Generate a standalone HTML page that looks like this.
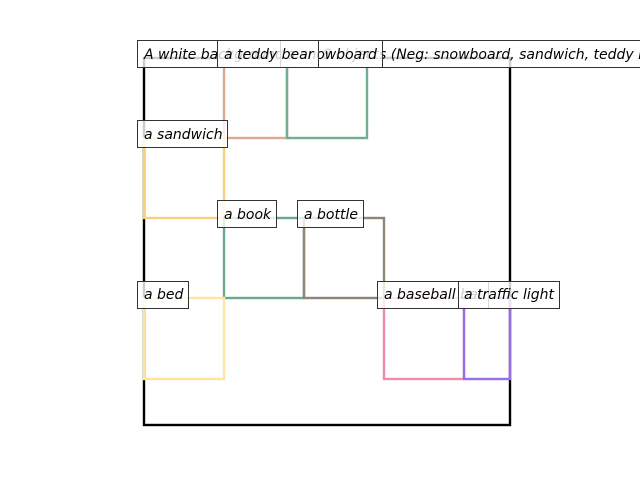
<!DOCTYPE html>
<html><head><meta charset="utf-8"><style>
html,body{margin:0;padding:0;background:#fff;width:640px;height:480px;overflow:hidden}
svg text{font-family:"DejaVu Sans","Liberation Sans",sans-serif;font-style:italic;font-size:14px;fill:#000;stroke:none}
</style></head><body>
<svg width="640" height="480" viewBox="0 0 640 480" xmlns="http://www.w3.org/2000/svg">
<rect x="0" y="0" width="640" height="480" fill="#fff"/>
<g fill="none" stroke-width="2.4">
<rect x="144" y="58" width="366" height="367" stroke="#000"/>
<rect x="224" y="58" width="63" height="80" stroke="#dfa98f"/>
<rect x="287" y="58" width="80" height="80" stroke="#72ae8e"/>
<rect x="144" y="138" width="80" height="80" stroke="#f8cf80"/>
<rect x="224" y="218" width="80" height="80" stroke="#6aa88a"/>
<rect x="304" y="218" width="80" height="80" stroke="#8f8676"/>
<rect x="144" y="298" width="80" height="81" stroke="#ffe3a0"/>
<rect x="384" y="298" width="80" height="81" stroke="#f08ca8"/>
<rect x="464" y="298" width="46" height="81" stroke="#9a6ee6"/>
</g>
<g stroke="#333" stroke-width="1" fill="rgba(255,255,255,0.8)">
<rect x="137.5" y="40.5" width="520" height="27"/>
<text x="144" y="59">A white background with 8 objects (Neg: snowboard, sandwich, teddy bear)</text>
<rect x="280.5" y="40.5" width="102" height="27"/>
<text x="287" y="59">a snowboard</text>
<rect x="217.5" y="40.5" width="101" height="27"/>
<text x="224" y="59">a teddy bear</text>
<rect x="137.5" y="120.5" width="90" height="27"/>
<text x="144" y="139">a sandwich</text>
<rect x="217.5" y="200.5" width="59" height="27"/>
<text x="224" y="219">a book</text>
<rect x="297.5" y="200.5" width="66" height="27"/>
<text x="304" y="219">a bottle</text>
<rect x="137.5" y="281.5" width="51" height="27"/>
<text x="144" y="299">a bed</text>
<rect x="377.5" y="281.5" width="111" height="27"/>
<text x="384" y="299">a baseball bat</text>
<rect x="458.5" y="281.5" width="101" height="27"/>
<text x="464" y="299">a traffic light</text>
</g>
</svg>
</body></html>
